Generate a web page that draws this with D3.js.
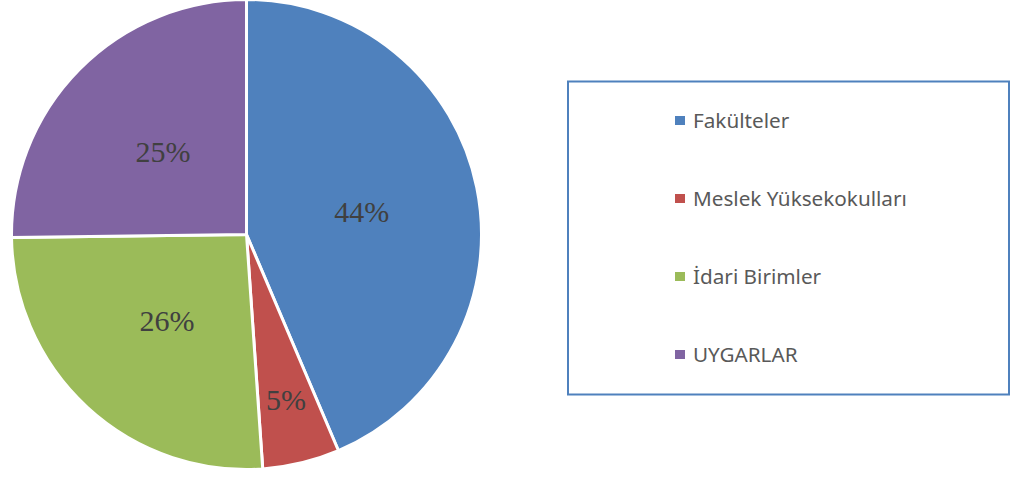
<!DOCTYPE html>
<html>
<head>
<meta charset="utf-8">
<script src="https://cdn.jsdelivr.net/npm/d3@7"></script>
<style>
	html, body { margin: 0; padding: 0; background: #fff; }
	svg { display: block; }
	.pct { font-family: "Liberation Serif", "Times New Roman", Times, serif; font-size: 30px; fill: #404040; }
	.leg { font-family: "Noto Sans", "Open Sans", sans-serif; font-size: 20.7px; fill: #595959; }
</style>
</head>
<body>
<script>
	// birim türleri ve payları (%)
	const categories = ["Fakülteler", "Meslek Yüksekokulları", "İdari Birimler", "UYGARLAR"];
	const values = [43.6, 5.3, 25.9, 25.2];
	const colors = ["#4f81bd", "#c0504d", "#9bbb59", "#8064a2"];

	const width = 1017;
	const height = 477;
	const cx = 246.5;
	const cy = 234.5;
	const radius = 235;

	const chart = d3.select("body").append("svg")
		.attr("width", width)
		.attr("height", height);

	const pie = d3.pie().sort(null).value((d) => d.value);
	const arcs = pie(categories.map((c, i) => ({ name: c, value: values[i], color: colors[i] })));
	const total = d3.sum(values);

	const arc = d3.arc().innerRadius(0).outerRadius(radius);
	const pieG = chart.append("g").attr("transform", "translate(" + cx + "," + cy + ")");

	pieG.selectAll("path")
		.data(arcs)
		.enter()
		.append("path")
		.attr("d", arc)
		.attr("fill", (d) => d.data.color)
		.attr("stroke", "#fff")
		.attr("stroke-width", 3)
		.attr("stroke-linejoin", "round");

	// küçük dilimlerin etiketi kenara daha yakın durur
	const labelArc = (d) => {
		const share = d.data.value / total;
		const r = share < 0.1 ? radius * 0.72 : radius * 0.5;
		return d3.arc().innerRadius(r).outerRadius(r).centroid(d);
	};

	pieG.selectAll("text")
		.data(arcs)
		.enter()
		.append("text")
		.attr("class", "pct")
		.attr("transform", (d) => "translate(" + labelArc(d) + ")")
		.attr("text-anchor", "middle")
		.attr("dy", "0.35em")
		.text((d) => Math.round(d.data.value) + "%");

	// lejant
	const legend = chart.append("g");
	legend.append("rect")
		.attr("x", 568)
		.attr("y", 81.5)
		.attr("width", 441)
		.attr("height", 313)
		.attr("fill", "none")
		.attr("stroke", "#4f81bd")
		.attr("stroke-width", 2);

	const rowY = d3.scalePoint().domain(categories).range([128, 362]);

	const items = legend.selectAll("g.item")
		.data(categories)
		.enter()
		.append("g")
		.attr("class", "item")
		.attr("transform", (d) => "translate(0," + rowY(d) + ")");

	items.append("rect")
		.attr("x", 675)
		.attr("y", -12)
		.attr("width", 10)
		.attr("height", 9)
		.attr("fill", (d, i) => colors[i]);

	items.append("text")
		.attr("class", "leg")
		.attr("x", 693)
		.attr("y", 0)
		.text((d) => d);
</script>
</body>
</html>
